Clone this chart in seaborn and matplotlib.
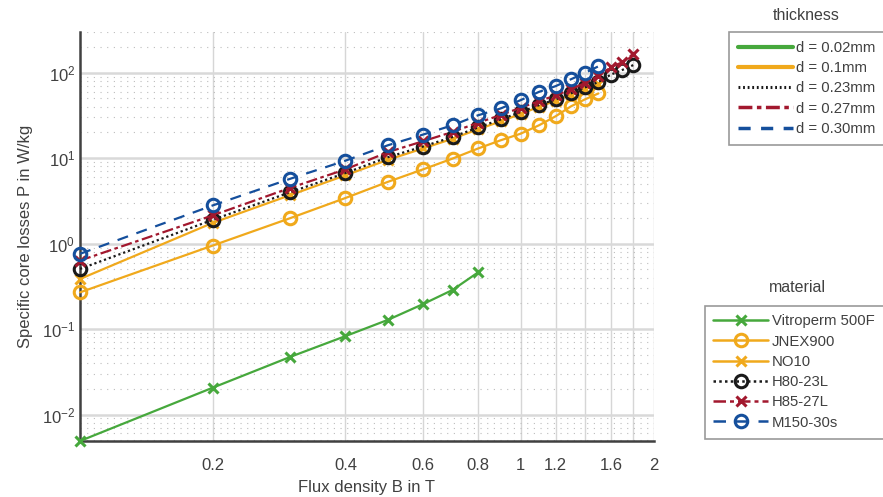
import matplotlib
matplotlib.use("Agg")
import matplotlib.pyplot as plt
from matplotlib.lines import Line2D
from matplotlib.ticker import FixedLocator, FixedFormatter, LogLocator, NullFormatter
import numpy as np
import pandas as pd
import seaborn as sns

# Flux density steps (T)
b_vitroperm = [0.1, 0.2, 0.3, 0.4, 0.5, 0.6, 0.7, 0.8]
b_to_1p5 = [0.1, 0.2, 0.3, 0.4, 0.5, 0.6, 0.7, 0.8, 0.9, 1.0, 1.1, 1.2, 1.3, 1.4, 1.5]
b_to_1p8 = b_to_1p5 + [1.6, 1.7, 1.8]

# Specific core losses (W/kg)
p_vitroperm = [0.0049, 0.0206, 0.0473, 0.0827, 0.1285, 0.196, 0.287, 0.461]
p_jnex900 = [0.269, 0.95, 1.99, 3.42, 5.3, 7.4, 9.9, 13.0, 16.2, 19.4, 24.3, 31.0, 40.5, 49.0, 57.3]
p_no10 = [0.386, 1.75, 3.7, 6.3, 9.6, 13.0, 16.9, 21.8, 27.0, 33.0, 40.0, 47.0, 55.0, 64.5, 74.0]
p_h80_23l = [0.506, 1.90, 4.0, 6.7, 10.3, 13.7, 17.7, 22.9, 28.4, 34.8, 41.8, 48.8, 57.5, 67.5, 78.0,
             95.0, 108.0, 123.0]
p_h85_27l = [0.634, 2.14, 4.5, 7.4, 11.8, 15.8, 20.3, 26.0, 32.0, 39.0, 46.5, 54.5, 64.0, 76.0, 92.0,
             116.0, 133.0, 167.0]
p_m150_30s = [0.76, 2.8, 5.75, 9.35, 14.2, 18.9, 24.3, 31.8, 38.2, 47.9, 59.8, 69.8, 84.0, 100.0, 119.0]

materials = ["Vitroperm 500F", "JNEX900", "NO10", "H80-23L", "H85-27L", "M150-30s"]
thickness_labels = ["d = 0.02mm", "d = 0.1mm", "d = 0.23mm", "d = 0.27mm", "d = 0.30mm"]
x_ticks = [0.2, 0.4, 0.6, 0.8, 1, 1.2, 1.4, 1.6, 1.8, 2]
x_tick_labels = ["0.2", "0.4", "0.6", "0.8", "1", "1.2", "", "1.6", "", "2"]

GREEN = "#46a83c"
ORANGE = "#f0a91c"
BLACK = "#1a1a1a"
RED = "#a2182e"
BLUE = "#154f9c"
TEXT = "#404040"

DOT = (0, (1, 1.3))
DASHDOT = (0, (5, 1.6, 1.6, 1.6))
DASH = (0, (5, 4))

styles = {
    "Vitroperm 500F": dict(color=GREEN, linestyle="-", marker="x"),
    "JNEX900": dict(color=ORANGE, linestyle="-", marker="o"),
    "NO10": dict(color=ORANGE, linestyle="-", marker="x"),
    "H80-23L": dict(color=BLACK, linestyle=DOT, marker="o"),
    "H85-27L": dict(color=RED, linestyle=DASHDOT, marker="x"),
    "M150-30s": dict(color=BLUE, linestyle=DASH, marker="o"),
}

frames = [
    pd.DataFrame({"B": b_vitroperm, "P": p_vitroperm, "material": "Vitroperm 500F"}),
    pd.DataFrame({"B": b_to_1p5, "P": p_jnex900, "material": "JNEX900"}),
    pd.DataFrame({"B": b_to_1p5, "P": p_no10, "material": "NO10"}),
    pd.DataFrame({"B": b_to_1p8, "P": p_h80_23l, "material": "H80-23L"}),
    pd.DataFrame({"B": b_to_1p8, "P": p_h85_27l, "material": "H85-27L"}),
    pd.DataFrame({"B": b_to_1p5, "P": p_m150_30s, "material": "M150-30s"}),
]
data = pd.concat(frames, ignore_index=True)

sns.set_style("white")
plt.rcParams["font.family"] = ["Liberation Sans", "DejaVu Sans"]
plt.rcParams["mathtext.fontset"] = "custom"
plt.rcParams["mathtext.rm"] = "Liberation Sans"
plt.rcParams["mathtext.it"] = "Liberation Sans"

fig = plt.figure(figsize=(8.83, 4.97), dpi=100)
ax = fig.add_axes([80 / 883, 1 - 441 / 497, (653.5 - 80) / 883, (441 - 32) / 497])

for name in materials:
    st = styles[name]
    sub = data[data["material"] == name]
    ms = 9 if st["marker"] == "o" else 7.5
    sns.lineplot(data=sub, x="B", y="P", ax=ax, color=st["color"], linestyle=st["linestyle"],
                 marker=st["marker"], markersize=ms, markeredgewidth=2.2,
                 markerfacecolor="none", markeredgecolor=st["color"], linewidth=1.6,
                 legend=False, clip_on=False, zorder=3)

ax.set_xscale("log")
ax.set_yscale("log")
ax.set_xlim(0.1, 2)
ax.set_ylim(0.0049, 300)

ax.xaxis.set_major_locator(FixedLocator(x_ticks))
ax.xaxis.set_major_formatter(FixedFormatter(x_tick_labels))
ax.xaxis.set_minor_locator(FixedLocator([]))
ax.yaxis.set_major_locator(LogLocator(base=10))
ax.yaxis.set_minor_locator(LogLocator(base=10, subs=np.arange(2, 10)))
ax.yaxis.set_minor_formatter(NullFormatter())

ax.grid(True, which="major", axis="x", color="#d6d6d6", linewidth=1.0, linestyle="-")
ax.grid(True, which="major", axis="y", color="#d9d9d9", linewidth=1.8, linestyle="-")
ax.grid(True, which="minor", axis="y", color="#bdbdbd", linewidth=0.8, linestyle=(0, (1, 5)))
ax.set_axisbelow(True)

for side in ["top", "right"]:
    ax.spines[side].set_visible(False)
for side in ["left", "bottom"]:
    ax.spines[side].set_color(TEXT)
    ax.spines[side].set_linewidth(1.8)

ax.tick_params(axis="both", which="both", direction="in", colors=TEXT, labelcolor=TEXT,
               labelsize=12)
ax.tick_params(axis="both", which="major", length=5, width=1.2)
ax.tick_params(axis="y", which="minor", length=3, width=1.0)
ax.tick_params(axis="x", which="major", pad=12)

ax.set_xlabel("Flux density B in T", fontsize=12, color=TEXT, labelpad=5)
ax.set_ylabel("Specific core losses P in W/kg", fontsize=12, color=TEXT, labelpad=6)

LEG_FS = 10.7

# Legend: sheet thickness
thick_handles = [
    Line2D([], [], color=GREEN, linewidth=3, linestyle="-"),
    Line2D([], [], color=ORANGE, linewidth=3, linestyle="-"),
    Line2D([], [], color=BLACK, linewidth=2.2, linestyle=(0, (0.6, 0.9))),
    Line2D([], [], color=RED, linewidth=2.5, linestyle=(0, (4, 1.3, 1.3, 1.3))),
    Line2D([], [], color=BLUE, linewidth=2.5, linestyle=(0, (3.5, 3))),
]
leg1 = fig.legend(thick_handles, thickness_labels, loc="upper left",
                  bbox_to_anchor=(729 / 883, 1 - 32 / 497), frameon=True, fancybox=False,
                  edgecolor="#808080", fontsize=LEG_FS, handlelength=3.7, handletextpad=0.2,
                  labelspacing=0.42, borderpad=0.6, borderaxespad=0)
leg1.get_frame().set_linewidth(1.2)
for t in leg1.get_texts():
    t.set_color(TEXT)
fig.text(806 / 883, 1 - 16 / 497, "thickness", ha="center", va="center", fontsize=11.5, color=TEXT)

# Legend: material
mat_handles = []
for name in materials:
    st = styles[name]
    ms = 9 if st["marker"] == "o" else 7.5
    mat_handles.append(Line2D([], [], color=st["color"], linestyle=st["linestyle"], linewidth=1.8,
                              marker=st["marker"], markersize=ms, markeredgewidth=2.2,
                              markerfacecolor="none"))
leg2 = fig.legend(mat_handles, materials, loc="upper left",
                  bbox_to_anchor=(704.5 / 883, 1 - 305.5 / 497), frameon=True, fancybox=False,
                  edgecolor="#808080", fontsize=LEG_FS, handlelength=3.7, handletextpad=0.25,
                  labelspacing=0.42, borderpad=0.6, borderaxespad=0)
leg2.get_frame().set_linewidth(1.2)
for t in leg2.get_texts():
    t.set_color(TEXT)
fig.text(797 / 883, 1 - 288 / 497, "material", ha="center", va="center", fontsize=11.5, color=TEXT)

fig.savefig("out.png", dpi=100)
